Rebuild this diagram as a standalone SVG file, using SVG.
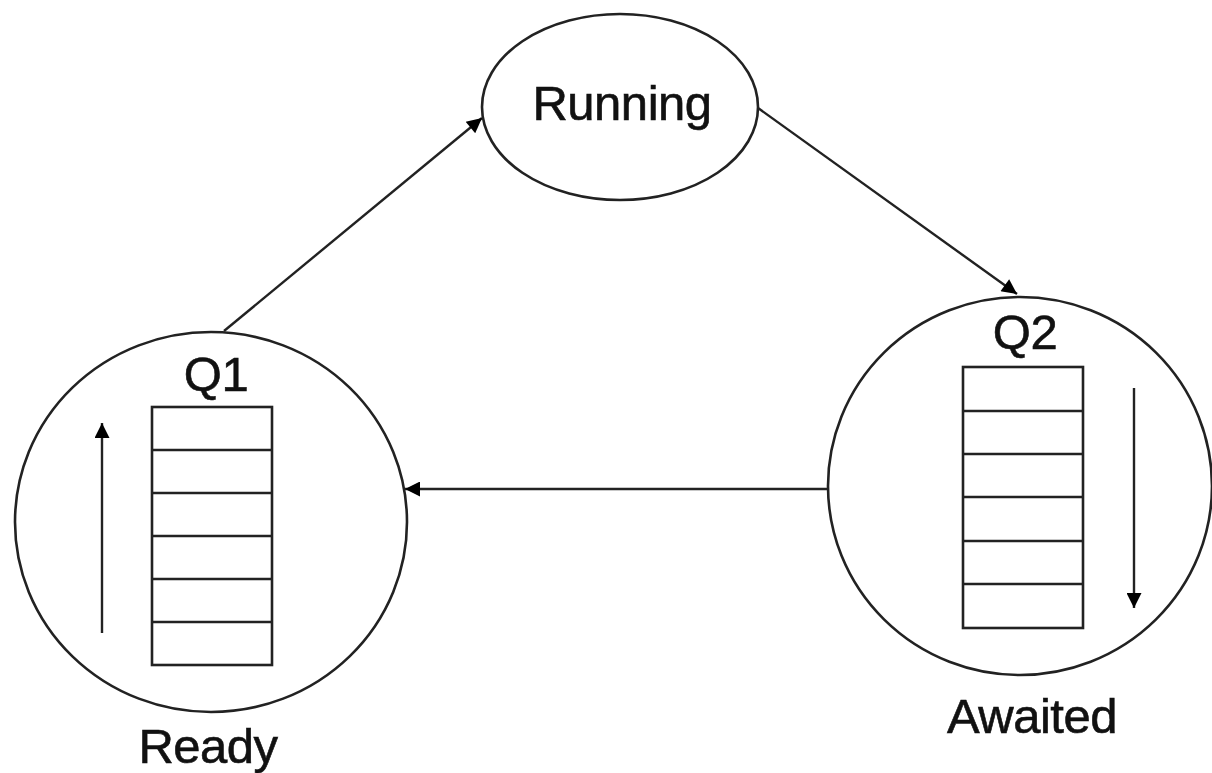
<svg xmlns="http://www.w3.org/2000/svg" width="1212" height="773" viewBox="0 0 1212 773">
<style>
.shape{fill:none;stroke:#222;stroke-width:2.6}
.row{stroke:#222;stroke-width:2.6}
.edge{fill:none;stroke:#222;stroke-width:2.4}
.lbl{font-family:"Liberation Sans",Arial,sans-serif;font-size:49px;fill:#111;stroke:#111;stroke-width:0.6;text-anchor:middle;letter-spacing:-0.5px}
</style>
<defs>
<marker id="ah" viewBox="0 0 10 10" refX="10" refY="5" markerWidth="17" markerHeight="15" markerUnits="userSpaceOnUse" orient="auto">
<path d="M0,0 L10,5 L0,10 z" fill="#000"/>
</marker>
</defs>
<rect width="1212" height="773" fill="#fff"/>
<g id="running">
<ellipse class="shape" cx="620" cy="107" rx="138" ry="93"/>
<text class="lbl" x="622" y="120">Running</text>
</g>
<g id="q1">
<ellipse class="shape" cx="211" cy="522" rx="196" ry="190"/>
<text class="lbl" x="216" y="391">Q1</text>
<rect class="shape" x="152" y="407" width="120" height="258"/>
<line class="row" x1="152" y1="450" x2="272" y2="450"/>
<line class="row" x1="152" y1="493" x2="272" y2="493"/>
<line class="row" x1="152" y1="536" x2="272" y2="536"/>
<line class="row" x1="152" y1="579" x2="272" y2="579"/>
<line class="row" x1="152" y1="622" x2="272" y2="622"/>
<line class="edge" x1="102" y1="633" x2="102" y2="423" marker-end="url(#ah)"/>
<text class="lbl" x="208" y="763">Ready</text>
</g>
<g id="q2">
<ellipse class="shape" cx="1020" cy="486" rx="192" ry="189"/>
<text class="lbl" x="1025" y="349">Q2</text>
<rect class="shape" x="963" y="367" width="120" height="261"/>
<line class="row" x1="963" y1="411" x2="1083" y2="411"/>
<line class="row" x1="963" y1="454" x2="1083" y2="454"/>
<line class="row" x1="963" y1="497" x2="1083" y2="497"/>
<line class="row" x1="963" y1="541" x2="1083" y2="541"/>
<line class="row" x1="963" y1="584" x2="1083" y2="584"/>
<line class="edge" x1="1134" y1="388" x2="1134" y2="608" marker-end="url(#ah)"/>
<text class="lbl" x="1032" y="733">Awaited</text>
</g>
<g id="connectors">
<line class="edge" x1="224" y1="331" x2="482" y2="118" marker-end="url(#ah)"/>
<line class="edge" x1="758" y1="108" x2="1017" y2="294" marker-end="url(#ah)"/>
<line class="edge" x1="828" y1="489" x2="405" y2="489" marker-end="url(#ah)"/>
</g>
</svg>
